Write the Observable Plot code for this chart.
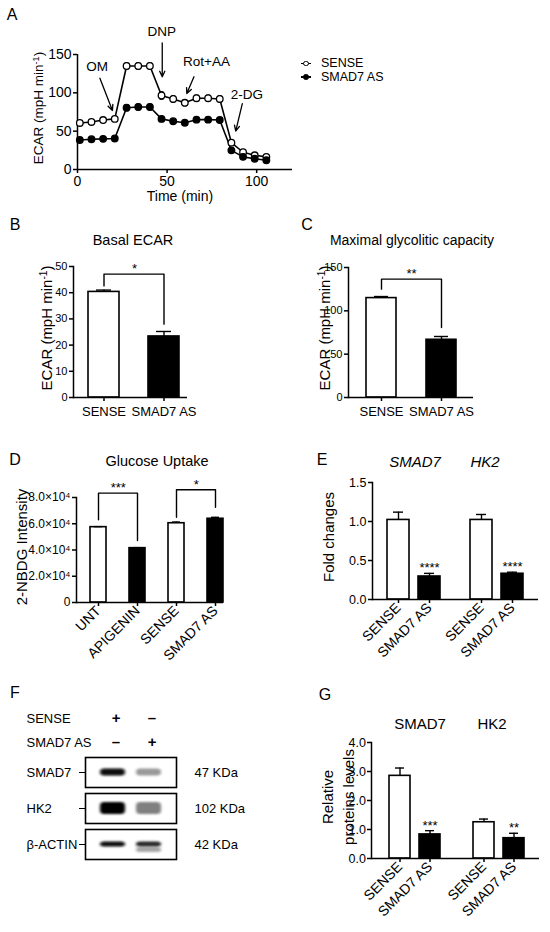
<!DOCTYPE html>
<html><head><meta charset="utf-8">
<script src="https://cdn.jsdelivr.net/npm/d3@7"></script>
<script src="https://cdn.jsdelivr.net/npm/@observablehq/plot@0.6"></script>
<style>
body{margin:0;background:#fff;font-family:"Liberation Sans",Arial,Helvetica,sans-serif;color:#000;}
#fig{position:relative;width:550px;height:932px;overflow:hidden;background:#fff;}
.p{position:absolute;}
.t{position:absolute;white-space:nowrap;transform:translate(-50%,-50%);line-height:1;}
.yl{position:absolute;white-space:nowrap;transform:translate(-50%,-50%) rotate(-90deg);line-height:1;text-align:center;}
sup{font-size:0.68em;vertical-align:0.45em;line-height:0;}
</style></head><body><div id="fig"></div>
<script>
// ---------- DATA ----------
// Panel A: ECAR time course
const seriesNames = ["SENSE", "SMAD7 AS"];
const timeMin   = [1.3, 7.8, 14.3, 20.8, 27.4, 33.9, 40.4, 46.9, 53.4, 59.9, 66.4, 72.9, 79.4, 85.9, 92.4, 98.9, 105.4];
const senseEcar = [60.7, 62, 64.5, 66, 135, 135, 135, 96.5, 92, 87, 93, 93, 92, 35, 22.5, 18.5, 16.5];
const senseErr  = [2, 2, 2, 2, 4, 4, 4, 5, 4, 4, 4, 4, 4, 2, 2, 2, 2];
const smadEcar  = [38.5, 39.5, 40, 40.5, 80.5, 81.5, 81.5, 66, 63, 61, 65, 65, 64.5, 25, 16.5, 14, 12];
const smadErr   = [1.5, 1, 1, 1, 4, 4, 4, 3, 2, 2, 2, 2, 2, 2, 2, 1, 1];
const injections = [
  {label: "OM",     tx: 11,   ty: 134, x1: 12.5, y1: 119, x2: 19.5, y2: 77},
  {label: "DNP",    tx: 47,   ty: 180, x1: 47.3, y1: 165, x2: 47.3, y2: 121},
  {label: "Rot+AA", tx: 72,   ty: 140, x1: 65,   y1: 121, x2: 61,   y2: 99},
  {label: "2-DG",   tx: 94.5, ty: 98,  x1: 92,   y1: 86,  x2: 88.3, y2: 50}
];
// Panels B, C
const groups = ["SENSE", "SMAD7 AS"];
const basalMean = [40.3, 23.3];
const basalErr  = [0.7, 1.9];
const maxMean   = [114.7, 66.6];
const maxErr    = [1.8, 3.8];
const sigB = [{a: "SENSE", b: "SMAD7 AS", top: 47.1, loA: 42.6, loB: 28, label: "*"}];
const sigC = [{a: "SENSE", b: "SMAD7 AS", top: 136.6, loA: 125, loB: 80.8, label: "**"}];
// Panel D
const uptakeGroups = ["UNT", "APIGENIN", "SENSE", "SMAD7 AS"];
const uptakeMean = [57400, 41400, 60400, 63800];
const uptakeErr  = [400, 400, 900, 1100];
const sigD = [
  {a: "UNT",   b: "APIGENIN", top: 83300, loA: 63000, loB: 47200, label: "***"},
  {a: "SENSE", b: "SMAD7 AS", top: 85900, loA: 65000, loB: 72600, label: "*"}
];
// Panel E (mRNA fold change)
const genes = ["SMAD7", "HK2"];
const foldMean = [[1.02, 0.295], [1.02, 0.33]];
const foldErr  = [[0.10, 0.04], [0.07, 0.02]];
const foldSig  = [["", "****"], ["", "****"]];
// Panel F (western blot, relative band signal 0..1)
const lanes = ["SENSE", "SMAD7 AS"];
const proteins = ["SMAD7", "HK2", "β-ACTIN"];
const kda = ["47 KDa", "102 KDa", "42 KDa"];
const bandSignal = [[0.97, 0.4], [1.0, 0.5], [0.95, 0.85]];
const lowerBandSignal = [[0, 0], [0, 0], [0, 0.35]];
const blotBackground = [0.2, 0.06, 0.05];
// Panel G (protein quantification)
const protMean = [[2.85, 0.83], [1.25, 0.70]];
const protErr  = [[0.27, 0.13], [0.11, 0.17]];
const protSig  = [["", "***"], ["", "**"]];

// ---------- HELPERS ----------
const FONT = '"Liberation Sans", Arial, Helvetica, sans-serif';
const fig = document.getElementById("fig");
function st(size) { return {fontFamily: FONT, fontSize: size + "px", background: "none", overflow: "visible", color: "black"}; }
function place(node, left, top) {
  const d = document.createElement("div");
  d.className = "p"; d.style.left = left + "px"; d.style.top = top + "px";
  d.appendChild(node); fig.appendChild(d); return node;
}
function txt(html, cx, cy, size, extra = {}) {
  const d = document.createElement("div");
  d.className = extra.rotate ? "yl" : "t";
  d.innerHTML = html;
  d.style.left = cx + "px"; d.style.top = cy + "px"; d.style.fontSize = size + "px";
  if (extra.italic) d.style.fontStyle = "italic";
  if (extra.lineHeight) d.style.lineHeight = extra.lineHeight + "px";
  fig.appendChild(d);
}
function bracketPts(sig) {
  return sig.flatMap((s, k) => [
    {k, x: s.a, y: s.loA}, {k, x: s.a, y: s.top}, {k, x: s.b, y: s.top}, {k, x: s.b, y: s.loB}
  ]);
}
function barMarks(rows, cap, fx) {
  const f = fx ? {fx: "gene"} : {};
  return [
    Plot.barY(rows, {...f, x: "g", y: "m", fill: "g", stroke: "black", strokeWidth: 1.6}),
    Plot.ruleX(rows, {...f, x: "g", y1: "m", y2: d => d.m + d.e, stroke: "black", strokeWidth: 1.4}),
    Plot.tickY(rows, {...f, x: "g", y: d => d.m + d.e, stroke: "black", strokeWidth: 1.4, insetLeft: cap, insetRight: cap})
  ];
}
function sigMarks(sig, halfStep) {
  return [
    Plot.line(bracketPts(sig), {x: "x", y: "y", z: "k", stroke: "black", strokeWidth: 1.4}),
    Plot.text(sig, {x: "a", y: "top", text: "label", dx: halfStep, dy: -1, lineAnchor: "bottom", fontSize: 13, fontFamily: FONT})
  ];
}

// ---------- PANEL A ----------
const rowsA = [];
timeMin.forEach((t, i) => {
  rowsA.push({series: seriesNames[0], t, v: senseEcar[i], e: senseErr[i]});
  rowsA.push({series: seriesNames[1], t, v: smadEcar[i], e: smadErr[i]});
});
place(Plot.plot({
  width: 300, height: 210, marginLeft: 77, marginRight: 8, marginTop: 54, marginBottom: 41,
  style: st(14),
  x: {domain: [0, 120]}, y: {domain: [0, 150]},
  color: {domain: seriesNames, range: ["white", "black"]},
  marks: [
    Plot.ruleX([0], {strokeWidth: 1.5}),
    Plot.ruleY([0], {strokeWidth: 1.5}),
    Plot.axisX({ticks: [0, 50, 100], tickSize: 4, tickPadding: 3, strokeWidth: 1.5, label: null, fontSize: 14, fontFamily: FONT}),
    Plot.axisY({ticks: [0, 50, 100, 150], tickSize: 4, tickPadding: 2, strokeWidth: 1.5, label: null, fontSize: 14, fontFamily: FONT}),
    Plot.line(rowsA, {x: "t", y: "v", z: "series", stroke: "black", strokeWidth: 1.6}),
    Plot.ruleX(rowsA, {x: "t", y1: d => d.v - d.e, y2: d => d.v + d.e, stroke: "black", strokeWidth: 1}),
    Plot.link(rowsA, {x1: d => d.t - 1.1, x2: d => d.t + 1.1, y1: d => d.v + d.e, y2: d => d.v + d.e, stroke: "black", strokeWidth: 1}),
    Plot.link(rowsA, {x1: d => d.t - 1.1, x2: d => d.t + 1.1, y1: d => d.v - d.e, y2: d => d.v - d.e, stroke: "black", strokeWidth: 1}),
    Plot.dot(rowsA, {x: "t", y: "v", fill: "series", stroke: "black", r: 3.3, strokeWidth: 1.3}),
    Plot.arrow(injections, {x1: "x1", y1: "y1", x2: "x2", y2: "y2", stroke: "black", strokeWidth: 1.3, headLength: 7, headAngle: 50}),
    Plot.text(injections, {x: "tx", y: "ty", text: "label", fontSize: 13.5, fontFamily: FONT})
  ]
}), 0, 0);
txt("A", 12, 15, 16);
txt("ECAR (mpH min<sup>-1</sup>)", 39, 108, 13.5, {rotate: true});
txt("Time (min)", 180, 196, 14);
// legend
seriesNames.forEach((s, i) => {
  const row = document.createElement("div");
  row.style.cssText = `position:absolute;left:301px;top:${57 + i * 13.6}px;height:13px;line-height:13px;display:flex;align-items:center;font-size:12.5px;white-space:nowrap;`;
  const sym = document.createElement("span");
  sym.style.cssText = "position:relative;display:inline-block;width:10px;height:13px;";
  const ln = document.createElement("span");
  ln.style.cssText = "position:absolute;left:0;top:5.8px;width:10px;height:1.5px;background:#000;";
  const c = document.createElement("span");
  c.style.cssText = `position:absolute;left:2.2px;top:3.7px;width:3.4px;height:3.4px;border:1.2px solid #000;border-radius:50%;background:${i ? "#000" : "#fff"};`;
  sym.appendChild(ln); sym.appendChild(c);
  const tx = document.createElement("span");
  tx.textContent = s; tx.style.marginLeft = "10px";
  row.appendChild(sym); row.appendChild(tx); fig.appendChild(row);
});

// ---------- PANEL B ----------
const rowsB = groups.map((g, i) => ({g, m: basalMean[i], e: basalErr[i]}));
place(Plot.plot({
  width: 200, height: 180, marginLeft: 73, marginRight: 13, marginTop: 16, marginBottom: 33,
  style: st(12),
  x: {domain: groups, paddingInner: 0.49, paddingOuter: 0.18, align: 0.66},
  y: {domain: [0, 50]},
  color: {domain: groups, range: ["white", "black"]},
  marks: [
    ...barMarks(rowsB, 8),
    ...sigMarks(sigB, 30.5),
    Plot.ruleY([0], {strokeWidth: 1.5}),
    Plot.frame({anchor: "left", strokeWidth: 1.5}),
    Plot.axisY({ticks: [0, 10, 20, 30, 40, 50], tickSize: 4, tickPadding: 2, strokeWidth: 1.5, label: null, fontSize: 11, fontFamily: FONT}),
    Plot.axisX({tickSize: 4, tickPadding: 5, strokeWidth: 1.5, label: null, fontSize: 13, fontFamily: FONT})
  ]
}), 0, 250);
txt("B", 15, 225, 16);
txt("Basal ECAR", 133, 240, 14.5);
txt("ECAR (mpH min<sup>-1</sup>)", 46, 328, 15, {rotate: true});

// ---------- PANEL C ----------
const rowsC = groups.map((g, i) => ({g, m: maxMean[i], e: maxErr[i]}));
place(Plot.plot({
  width: 220, height: 180, marginLeft: 73, marginRight: 22, marginTop: 17, marginBottom: 33,
  style: st(12),
  x: {domain: groups, paddingInner: 0.496, paddingOuter: 0.28, align: 0.53},
  y: {domain: [0, 150]},
  color: {domain: groups, range: ["white", "black"]},
  marks: [
    ...barMarks(rowsC, 8),
    ...sigMarks(sigC, 30),
    Plot.ruleY([0], {strokeWidth: 1.5}),
    Plot.frame({anchor: "left", strokeWidth: 1.5}),
    Plot.axisY({ticks: [0, 50, 100, 150], tickSize: 4, tickPadding: 2, strokeWidth: 1.5, label: null, fontSize: 11, fontFamily: FONT}),
    Plot.axisX({tickSize: 4, tickPadding: 5, strokeWidth: 1.5, label: null, fontSize: 13, fontFamily: FONT})
  ]
}), 275, 250);
txt("C", 307, 225, 16);
txt("Maximal glycolitic capacity", 412, 240, 14);
txt("ECAR (mpH min<sup>-1</sup>)", 324, 328, 15, {rotate: true});

// ---------- PANEL D ----------
const rowsD = uptakeGroups.map((g, i) => ({g, m: uptakeMean[i], e: uptakeErr[i]}));
place(Plot.plot({
  width: 275, height: 200, marginLeft: 76, marginRight: 52, marginTop: 17, marginBottom: 78,
  style: st(13),
  x: {domain: uptakeGroups, paddingInner: 0.6, paddingOuter: 0.16, align: 1},
  y: {domain: [0, 80000]},
  color: {domain: uptakeGroups, range: ["white", "black", "white", "black"]},
  marks: [
    ...barMarks(rowsD, 4),
    ...sigMarks(sigD, 19.75),
    Plot.ruleY([0], {strokeWidth: 1.5}),
    Plot.frame({anchor: "left", strokeWidth: 1.5}),
    Plot.axisY({ticks: [0, 20000, 40000, 60000, 80000], tickFormat: d => d === 0 ? "0" : (d / 1e4).toFixed(1) + "×10⁴", tickSize: 4, tickPadding: 2, strokeWidth: 1.5, label: null, fontSize: 12, fontFamily: FONT}),
    Plot.axisX({tickRotate: -45, tickSize: 4, tickPadding: 2, strokeWidth: 1.5, label: null, fontSize: 14, fontFamily: FONT})
  ]
}), 0, 480);
txt("D", 15, 460, 16);
txt("Glucose Uptake", 157, 461, 14.5);
txt("2-NBDG Intensity", 21, 547, 15, {rotate: true});

// ---------- PANEL E ----------
const rowsE = genes.flatMap((gene, j) => groups.map((g, i) => ({gene, g, m: foldMean[j][i], e: foldErr[j][i], s: foldSig[j][i]})));
place(Plot.plot({
  width: 275, height: 210, marginLeft: 96, marginRight: 12, marginTop: 12, marginBottom: 81,
  style: st(13),
  fx: {domain: genes, padding: 0, axis: null},
  x: {domain: groups, paddingInner: 0.3, paddingOuter: 0.476},
  y: {domain: [0, 1.5]},
  color: {domain: groups, range: ["white", "black"]},
  marks: [
    ...barMarks(rowsE, 6, true),
    Plot.text(rowsE, {fx: "gene", x: "g", y: d => d.m + d.e, text: "s", dy: -1, lineAnchor: "bottom", fontSize: 13, fontFamily: FONT}),
    Plot.ruleY([0], {strokeWidth: 1.5}),
    Plot.frame({anchor: "left", strokeWidth: 1.5, facetAnchor: "left"}),
    Plot.axisY({ticks: [0, 0.5, 1, 1.5], tickFormat: d3.format(".1f"), tickSize: 4, tickPadding: 2, strokeWidth: 1.5, label: null, fontSize: 12.5, fontFamily: FONT}),
    Plot.axisX({tickRotate: -45, tickSize: 4, tickPadding: 2, strokeWidth: 1.5, label: null, fontSize: 14, fontFamily: FONT})
  ]
}), 275, 470);
txt("E", 322, 460, 16);
txt("SMAD7", 415, 461, 15, {italic: true});
txt("HK2", 485, 461, 15, {italic: true});
txt("Fold changes", 328, 537, 15, {rotate: true});

// ---------- PANEL F ----------
const headerRows = lanes.flatMap(lane => lanes.map(row => ({lane, row, sign: lane === row ? "+" : "–"})));
place(Plot.plot({
  width: 275, height: 48, marginLeft: 85, marginRight: 99, marginTop: 0, marginBottom: 0,
  style: st(13),
  x: {type: "band", domain: lanes, paddingInner: 0.24, paddingOuter: 0.35, axis: null},
  y: {type: "point", domain: lanes, padding: 0.5, axis: null},
  marks: [
    Plot.text(headerRows, {x: "lane", y: "row", text: "sign", dx: 3, fontSize: 15, fontWeight: "bold", fontFamily: FONT}),
    Plot.text(lanes, {y: d => d, text: d => d, frameAnchor: "left", dx: -59, textAnchor: "start", fontSize: 13, fontFamily: FONT})
  ]
}), 0, 706);
const bandRows = proteins.flatMap((protein, j) => lanes.map((lane, i) => ({protein, lane, signal: bandSignal[j][i], lower: lowerBandSignal[j][i]})));
const bgRows = proteins.map((protein, j) => ({protein, signal: blotBackground[j]}));
const bandInset = {"SMAD7": 11.5, "HK2": 9, "β-ACTIN": 12.5};
const blot = place(Plot.plot({
  width: 275, height: 115, marginLeft: 85, marginRight: 99, marginTop: 7, marginBottom: 6,
  style: st(13),
  x: {domain: lanes, paddingInner: 0.24, paddingOuter: 0.35, axis: null},
  fy: {domain: proteins, paddingInner: 0.167, paddingOuter: 0, axis: null},
  color: {type: "linear", domain: [0, 1], range: ["white", "black"]},
  marks: [
    Plot.cell(bgRows, {fy: "protein", fill: "signal"}),
    Plot.cell(bandRows.filter(d => d.lower > 0), {x: "lane", fy: "protein", fill: "lower", insetTop: 14, insetBottom: 11, insetLeft: 1, insetRight: 1, dy: 4, rx: 3}),
    ...proteins.map(p => Plot.cell(bandRows.filter(d => d.protein === p), {x: "lane", fy: "protein", fill: "signal", insetTop: bandInset[p], insetBottom: bandInset[p], insetLeft: 1, insetRight: 1, rx: 4})),
    Plot.frame({stroke: "black", strokeWidth: 1.6}),
    Plot.text(proteins, {fy: d => d, text: d => d, frameAnchor: "left", dx: -59, textAnchor: "start", fontSize: 13, fontFamily: FONT}),
    Plot.text(proteins, {fy: d => d, text: (d, i) => kda[i], frameAnchor: "right", dx: 18, textAnchor: "start", fontSize: 13, fontFamily: FONT})
  ]
}), 0, 750);
(function () {
  const ns = "http://www.w3.org/2000/svg";
  const defs = document.createElementNS(ns, "defs");
  const f = document.createElementNS(ns, "filter");
  f.setAttribute("id", "bandBlur");
  f.setAttribute("x", "-40%"); f.setAttribute("y", "-100%");
  f.setAttribute("width", "180%"); f.setAttribute("height", "300%");
  const b = document.createElementNS(ns, "feGaussianBlur");
  b.setAttribute("stdDeviation", "1.8 1.2");
  f.appendChild(b); defs.appendChild(f);
  blot.insertBefore(defs, blot.firstChild);
  blot.querySelectorAll("[rx]").forEach(el => el.setAttribute("filter", "url(#bandBlur)"));
})();
txt("F", 15, 693, 16);

// ---------- PANEL G ----------
const rowsG = genes.flatMap((gene, j) => groups.map((g, i) => ({gene, g, m: protMean[j][i], e: protErr[j][i], s: protSig[j][i]})));
place(Plot.plot({
  width: 275, height: 232, marginLeft: 96, marginRight: 11, marginTop: 42, marginBottom: 74,
  style: st(13),
  fx: {domain: genes, padding: 0, axis: null},
  x: {domain: groups, paddingInner: 0.29, paddingOuter: 0.5, align: 0.55},
  y: {domain: [0, 4]},
  color: {domain: groups, range: ["white", "black"]},
  marks: [
    ...barMarks(rowsG, 6, true),
    Plot.text(rowsG, {fx: "gene", x: "g", y: d => d.m + d.e, text: "s", dy: -1, lineAnchor: "bottom", fontSize: 13, fontFamily: FONT}),
    Plot.ruleY([0], {strokeWidth: 1.5}),
    Plot.frame({anchor: "left", strokeWidth: 1.5, facetAnchor: "left"}),
    Plot.axisY({ticks: [0, 1, 2, 3, 4], tickSize: 4, tickPadding: 1.5, strokeWidth: 1.5, label: null, fontSize: 12.5, fontFamily: FONT}),
    Plot.axisX({tickRotate: -45, tickSize: 4, tickPadding: 2, strokeWidth: 1.5, label: null, fontSize: 14, fontFamily: FONT})
  ]
}), 275, 700);
txt("G", 325, 695, 16);
txt("SMAD7", 420, 723, 15);
txt("HK2", 492, 723, 15);
txt("Relative<br>proteins levels", 338, 797, 15, {rotate: true, lineHeight: 21});
</script></body></html>
